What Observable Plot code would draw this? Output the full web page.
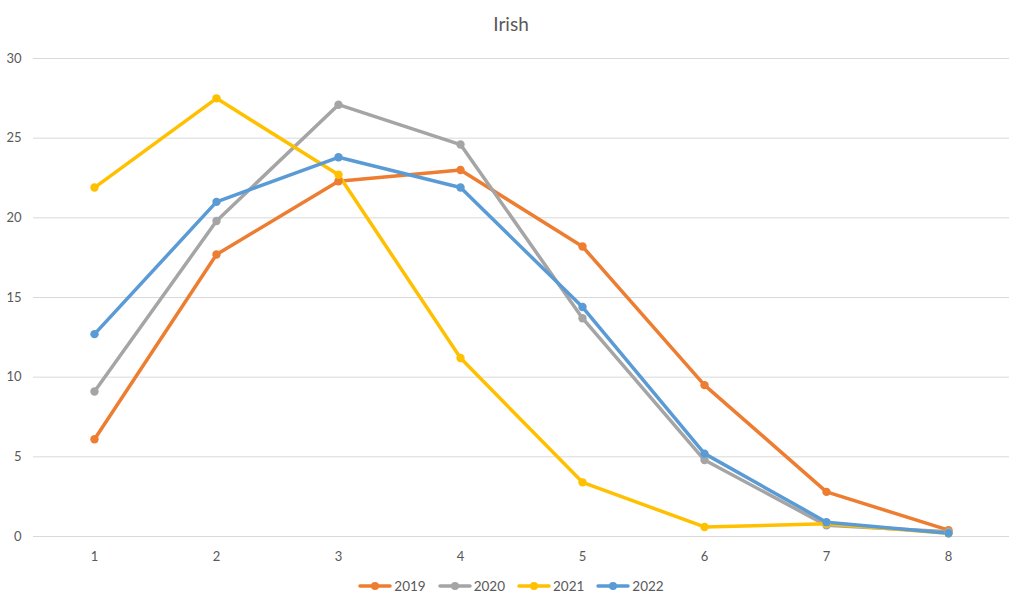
<!DOCTYPE html>
<html>
<head>
<meta charset="utf-8">
<script src="https://cdn.jsdelivr.net/npm/d3@7"></script>
<script src="https://cdn.jsdelivr.net/npm/@observablehq/plot@0.6"></script>
<style>
  body { margin: 0; background: #fff; font-family: Lato, "Open Sans", sans-serif; }
  #title { height: 40px; box-sizing: border-box; padding-top: 13px; text-align: center; font-size: 19px; line-height: 22px; color: #595959; }
  #legend { display: flex; justify-content: center; gap: 12px; font-size: 13.5px; color: #595959; margin-top: 8px; }
  .item { display: flex; align-items: center; gap: 2px; }
</style>
</head>
<body>
<div id="title">Irish</div>
<div id="chart"></div>
<div id="legend"></div>
<script>
const categories = [1, 2, 3, 4, 5, 6, 7, 8];
const years = ["2019", "2020", "2021", "2022"];
const colors = ["#ED7D31", "#A5A5A5", "#FFC000", "#5B9BD5"];
const v2019 = [6.1, 17.7, 22.3, 23.0, 18.2, 9.5, 2.8, 0.4];
const v2020 = [9.1, 19.8, 27.1, 24.6, 13.7, 4.8, 0.7, 0.3];
const v2021 = [21.9, 27.5, 22.7, 11.2, 3.4, 0.6, 0.8, 0.2];
const v2022 = [12.7, 21.0, 23.8, 21.9, 14.4, 5.2, 0.9, 0.2];
const yTicks = [0, 5, 10, 15, 20, 25, 30];

const seriesValues = [v2019, v2020, v2021, v2022];
const data = [];
years.forEach((yr, i) => categories.forEach((c, j) => data.push({year: yr, cat: c, value: seriesValues[i][j]})));

const chart = Plot.plot({
  width: 1022,
  height: 530,
  marginLeft: 33,
  marginRight: 13,
  marginTop: 18,
  marginBottom: 34,
  style: {fontFamily: "Lato, 'Open Sans', sans-serif", fontSize: "13px", color: "#595959"},
  x: {type: "point", domain: categories, padding: 0.5, label: null, tickSize: 0, tickPadding: 15},
  y: {domain: [0, 30], ticks: yTicks, label: null, tickSize: 0, tickPadding: 12},
  color: {domain: years, range: colors},
  marks: [
    Plot.gridY(yTicks, {stroke: "#d9d9d9", strokeOpacity: 1, strokeWidth: 1}),
    Plot.axisX({tickSize: 0, tickPadding: 15, fill: "#595959"}),
    Plot.axisY({ticks: yTicks, tickSize: 0, tickPadding: 12, fill: "#595959"}),
    Plot.line(data, {x: "cat", y: "value", z: "year", stroke: "year", strokeWidth: 3.5, strokeLinejoin: "round", strokeLinecap: "round"}),
    Plot.dot(data, {x: "cat", y: "value", fill: "year", r: 4.2})
  ]
});
document.getElementById("chart").appendChild(chart);

const legend = document.getElementById("legend");
years.forEach((yr, i) => {
  const item = document.createElement("div");
  item.className = "item";
  item.innerHTML = `<svg width="34" height="12"><line x1="2" x2="32" y1="6" y2="6" stroke="${colors[i]}" stroke-width="3.5" stroke-linecap="round"/><circle cx="17" cy="6" r="4" fill="${colors[i]}"/></svg><span>${yr}</span>`;
  legend.appendChild(item);
});
</script>
</body>
</html>
